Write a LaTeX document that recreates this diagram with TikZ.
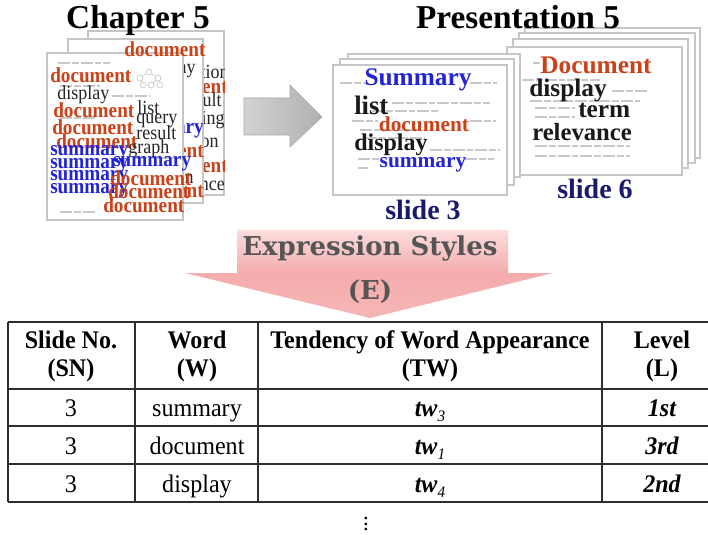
\documentclass[tikz,border=0pt]{standalone}
\usepackage{fontspec}
\setmainfont{Liberation Serif}
\newfontfamily\slabfont{DejaVu Serif}
\newfontfamily\condserif[FakeStretch=0.9]{Liberation Serif}
\newfontfamily\tabserif[FakeStretch=0.95]{Liberation Serif}
\definecolor{docred}{RGB}{205,65,25}
\definecolor{sumblue}{RGB}{35,35,215}
\definecolor{navy}{RGB}{25,25,110}
\definecolor{faint}{RGB}{200,200,200}
\definecolor{pinkA}{RGB}{251,220,220}
\definecolor{pinkB}{RGB}{245,172,172}
\definecolor{expgray}{RGB}{85,85,85}
\definecolor{rulecol}{RGB}{45,45,45}
\tikzset{
  page/.style={draw=gray!45, fill=white, line width=0.8pt},
  chapb/.style={inner sep=0, font=\condserif\fontsize{16}{16}\selectfont\bfseries},
  chapr/.style={inner sep=0, font=\condserif\fontsize{15}{15}\selectfont},
  docw/.style={chapb, text=docred},
  sumw/.style={chapb, text=sumblue},
  plainw/.style={chapr, text=black!85},
  slidew/.style={inner sep=0, font=\fontsize{#1}{#1}\selectfont\bfseries},
  fakeline/.style={draw=faint, line width=1.4pt, dash pattern=on 9pt off 1.5pt on 5pt off 1.5pt},
  title/.style={inner sep=0, anchor=base, font=\fontsize{25}{25}\selectfont\bfseries},
  slidelabel/.style={inner sep=0, text=navy, font=\fontsize{21}{21}\selectfont\bfseries},
  head/.style={inner sep=0, align=center, font=\tabserif\fontsize{19}{21}\selectfont\bfseries},
  cell/.style={inner sep=0, anchor=base, font=\tabserif\fontsize{19}{19}\selectfont},
  lvl/.style={inner sep=0, anchor=base, font=\tabserif\fontsize{19}{19}\selectfont\bfseries\itshape},
  expr/.style={inner sep=0, text=expgray, font=\slabfont\fontsize{19.5}{19.5}\selectfont\bfseries},
  tabrule/.style={draw=rulecol, line width=1pt},
}
\newcommand{\twsub}[1]{\textbf{\textit{tw}}\raisebox{-0.45ex}{\fontsize{12}{12}\selectfont\itshape #1}}
\begin{document}
\begin{tikzpicture}[x=0.75pt, y=-0.75pt]
\useasboundingbox (0,0) rectangle (708,535);

% ---------- chapter pages: back ----------
\draw[page] (88,31) rectangle (224,195);
\begin{scope}
  \clip (88,31) rectangle (224,195);
  \node[plainw, anchor=east] (b1) at (229,72) {function};
  \node[docw, anchor=east] (b2) at (228,86) {document};
  \node[plainw, anchor=east] (b3) at (222,100) {result};
  \node[plainw, anchor=east] (b4) at (225,120) {ranking};
  \node[plainw, anchor=east] (b5) at (219,143) {position};
  \node[docw, anchor=east] (b6) at (228,165) {document};
  \node[plainw, anchor=east] (b7) at (225,184) {relevance};
\end{scope}

% ---------- chapter pages: middle ----------
\draw[page] (68,39) rectangle (203,203);
\begin{scope}
  \clip (68,39) rectangle (203,203);
  \node[plainw, anchor=east] (m1) at (196,69) {display};
  \node[sumw, anchor=east] (m2) at (204,131) {summary};
  \node[docw, anchor=east] (m3) at (204,150) {document};
  \node[plainw, anchor=east] (m4) at (194,177) {relation};
  \node[docw, anchor=east] (m5) at (204,190) {document};
\end{scope}

% ---------- chapter pages: front ----------
\draw[page] (47,53) rectangle (183,220);
\draw[fakeline] (58,63) -- (110,63);
\draw[fakeline] (60,86) -- (100,86);
\draw[fakeline] (112,96) -- (150,96);
\draw[fakeline] (60,118) -- (95,118);
\draw[fakeline] (135,158) -- (175,158);
\draw[fakeline] (60,212) -- (95,212);
% small tree icon
\begin{scope}[draw=gray!45, line width=0.5pt]
  \node[draw, circle, inner sep=0, minimum size=4.5pt] (g1) at (149,72) {};
  \node[draw, circle, inner sep=0, minimum size=4.5pt] (g2) at (140,78) {};
  \node[draw, circle, inner sep=0, minimum size=4.5pt] (g3) at (158,78) {};
  \node[draw, circle, inner sep=0, minimum size=4.5pt] (g4) at (143,85) {};
  \node[draw, circle, inner sep=0, minimum size=4.5pt] (g5) at (151,85) {};
  \node[draw, circle, inner sep=0, minimum size=4.5pt] (g6) at (160,85) {};
  \draw (g1) -- (g2); \draw (g1) -- (g3);
  \draw (g2) -- (g4); \draw (g3) -- (g5); \draw (g3) -- (g6);
\end{scope}
\node[docw, anchor=west] (f1) at (50,75) {document};
\node[plainw, anchor=west] (f2) at (57,95) {display};
\node[docw, anchor=west] (f3) at (53,110) {document};
\node[docw, anchor=west] (f4) at (52,127) {document};
\node[docw, anchor=west] (f5) at (56,141) {document};
\node[plainw, anchor=west] (f6) at (137,108) {list};
\node[plainw, anchor=west] (f7) at (136,121) {query};
\node[plainw, anchor=west] (f8) at (136,133) {result};
\node[plainw, anchor=west] (f9) at (128,149) {graph};
\node[sumw, anchor=west] (f10) at (50,153) {summary};
\node[sumw, anchor=west] (f11) at (50,166) {summary};
\node[sumw, anchor=west] (f12) at (50,178) {summary};
\node[sumw, anchor=west] (f13) at (50,191) {summary};
\node[sumw, anchor=west] (f14) at (113,164) {summary};
\node[docw, anchor=west] (f15) at (110,178) {document};
\node[docw, anchor=west] (f16) at (108,191) {document};
\node[docw, anchor=west] (f17) at (103,205) {document};
\node[docw] (f0) at (165,49) {document};

% ---------- gray arrow ----------
\path[draw=gray!70, left color=gray!35, right color=gray!62]
  (244,98) -- (290,98) -- (290,85) -- (322,117) -- (290,147) -- (290,135) -- (244,135) -- cycle;

% ---------- slide 6 stack ----------
\draw[page] (525,28) rectangle (700,158);
\draw[page] (519,33) rectangle (695,163);
\draw[page] (513,39) rectangle (688,168);
\draw[page] (507,47) rectangle (682,175);
\draw[fakeline] (533,63) -- (540,63);
\draw[fakeline] (522,80) -- (600,80);
\draw[fakeline] (612,91) -- (648,91);
\draw[fakeline] (530,101) -- (640,101);
\draw[fakeline] (535,108) -- (575,108);
\draw[fakeline] (535,117) -- (575,117);
\draw[fakeline] (535,146) -- (630,146);
\draw[fakeline] (535,156) -- (630,156);
\node[slidew=19, text=docred] (s6a) at (596,65) {Document};
\node[slidew=19, text=black!90, anchor=west] (s6b) at (529,90) {display};
\node[slidew=19, text=black!90, anchor=west] (s6c) at (578,110) {term};
\node[slidew=18.5, text=black!90, anchor=west] (s6d) at (532,132) {relevance};
\node[slidelabel] (lab6) at (595,189) {slide 6};

% ---------- slide 3 stack ----------
\draw[page] (348,54) rectangle (520,177);
\draw[page] (340,59) rectangle (514,185);
\draw[page] (333,65) rectangle (507,195);
\draw[fakeline] (340,83) -- (366,83);
\draw[fakeline] (470,83) -- (497,83);
\draw[fakeline] (392,103) -- (490,103);
\draw[fakeline] (372,111) -- (440,111);
\draw[fakeline] (352,121) -- (378,121);
\draw[fakeline] (470,121) -- (496,121);
\draw[fakeline] (360,130) -- (420,130);
\draw[fakeline] (365,138) -- (425,138);
\draw[fakeline] (430,150) -- (500,150);
\draw[fakeline] (358,159) -- (380,159);
\draw[fakeline] (465,159) -- (494,159);
\draw[fakeline] (358,168) -- (368,168);
\node[slidew=19, text=sumblue] (s3a) at (418,80) {Summary};
\node[slidew=20, text=black!90, anchor=west] (s3b) at (354,105) {list};
\node[slidew=16, text=docred] (s3c) at (424,124) {document};
\node[slidew=18, text=black!90, anchor=west] (s3d) at (354,145) {display};
\node[slidew=16, text=sumblue] (s3e) at (423,165) {summary};
\node[slidelabel] (lab3) at (423,210) {slide 3};

% ---------- titles (on top of the page stacks) ----------
\node[title] (chap) at (138,29) {Chapter 5};
\node[title] (pres) at (518,29) {Presentation 5};

% ---------- expression styles arrow ----------
\path[top color=pinkA, bottom color=pinkB!80!pinkA, middle color=pinkB]
  (237,230) -- (508,230) -- (508,273) -- (553,273) -- (370,318) -- (185,273) -- (237,273) -- cycle;
\node[expr] (exprs) at (370,249) {Expression Styles};
\node[expr] (expe) at (370,292) {(E)};

% ---------- table ----------
\draw[tabrule] (8,322) -- (708,322);
\draw[tabrule] (8,389) -- (708,389);
\draw[tabrule] (8,426) -- (708,426);
\draw[tabrule] (8,464) -- (708,464);
\draw[tabrule] (8,502) -- (708,502);
\draw[tabrule] (8,322) -- (8,502);
\draw[tabrule] (135,322) -- (135,502);
\draw[tabrule] (258,322) -- (258,502);
\draw[tabrule] (602,322) -- (602,502);

\node[head] (h1) at (71,356) {Slide No.\\(SN)};
\node[head] (h2) at (197,356) {Word\\(W)};
\node[head] (h3) at (430,356) {Tendency of Word Appearance\\(TW)};
\node[head] (h4) at (662,356) {Level\\(L)};

\node[cell] (r1a) at (71,416) {3};
\node[cell] (r1b) at (197,416) {summary};
\node[cell] (r1c) at (430,416) {\twsub{3}};
\node[lvl] (r1d) at (662,416) {1st};

\node[cell] (r2a) at (71,454) {3};
\node[cell] (r2b) at (197,454) {document};
\node[cell] (r2c) at (430,454) {\twsub{1}};
\node[lvl] (r2d) at (662,454) {3rd};

\node[cell] (r3a) at (71,492) {3};
\node[cell] (r3b) at (197,492) {display};
\node[cell] (r3c) at (430,492) {\twsub{4}};
\node[lvl] (r3d) at (662,492) {2nd};

\node[inner sep=0, font=\fontsize{17}{17}\selectfont] (more) at (366,520) {$\vdots$};
\end{tikzpicture}
\end{document}
